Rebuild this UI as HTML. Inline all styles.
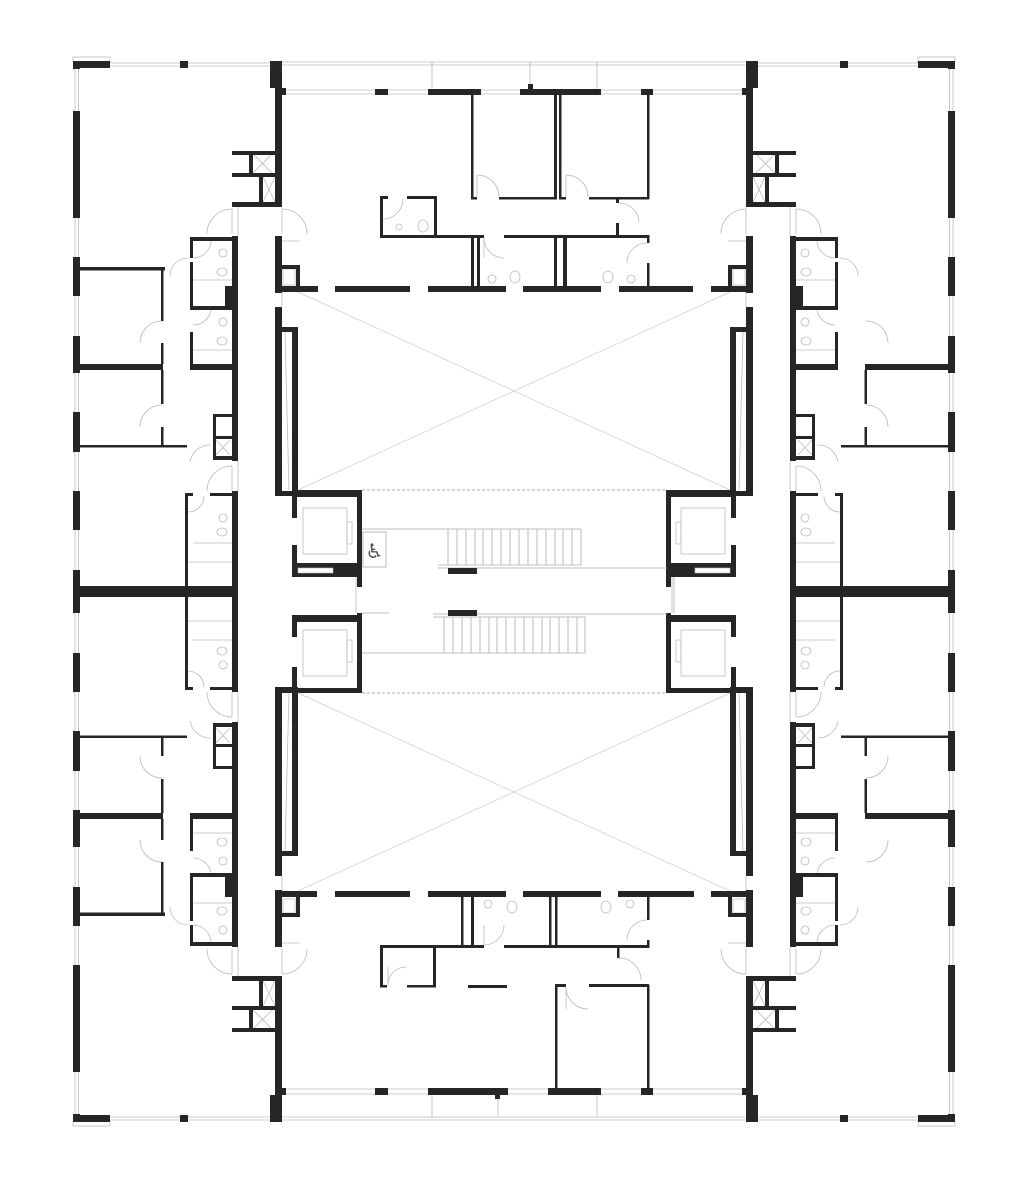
<!DOCTYPE html>
<html><head><meta charset="utf-8"><style>
html,body{margin:0;padding:0;background:#fff;}
svg{display:block;}
</style></head><body>
<svg width="1024" height="1184" viewBox="0 0 1024 1184" xmlns="http://www.w3.org/2000/svg" font-family="Liberation Sans, sans-serif">
<defs>
<g id="q">
  <g stroke="#bbb" stroke-width="0.8" fill="none">
    <line x1="110" y1="63" x2="272" y2="63"/><line x1="110" y1="66" x2="272" y2="66"/>
    <line x1="75" y1="61" x2="75" y2="592"/><line x1="78.5" y1="61" x2="78.5" y2="592"/>
    <rect x="73" y="57" width="37" height="5"/>
    <path d="M207,234 A25,25 0 0 1 232,209 M232,209 L232,234"/>
    <path d="M307,234 A25,25 0 0 0 282,209 M282,209 L282,234"/>
    <path d="M140,343 A22,22 0 0 1 162,321"/><path d="M140,427 A22,22 0 0 1 162,405"/>
    <path d="M207,491 A25,25 0 0 1 232,466 M232,466 L232,491"/>
    <path d="M188,258 A18,18 0 0 0 170,276"/>
    <path d="M193,258 A18,18 0 0 0 211,240 M193,325 A18,18 0 0 0 211,310"/>
    <path d="M190,462 A20,20 0 0 1 210,445"/>
    <path d="M188,512 A16,16 0 0 0 204,496"/>
    <line x1="282" y1="293" x2="282" y2="307"/>
    <line x1="285" y1="332" x2="289" y2="490"/>
    <line x1="238" y1="207" x2="238" y2="236"/><line x1="238" y1="461" x2="238" y2="491"/>
    <line x1="193" y1="280" x2="232" y2="280"/><line x1="193" y1="350" x2="232" y2="350"/>
    <line x1="193" y1="543" x2="232" y2="543"/><line x1="188" y1="562" x2="232" y2="562"/>
    <line x1="253" y1="154" x2="272" y2="173"/><line x1="272" y1="154" x2="253" y2="173"/>
    <line x1="263" y1="177" x2="275" y2="202"/><line x1="275" y1="177" x2="263" y2="202"/>
    <line x1="216" y1="440" x2="230" y2="455"/><line x1="230" y1="440" x2="216" y2="455"/>
    <circle cx="223" cy="253" r="4"/><circle cx="223" cy="322" r="4"/><circle cx="223" cy="518" r="4"/>
    <ellipse cx="222" cy="272" rx="5" ry="4"/><ellipse cx="222" cy="341" rx="5" ry="4"/><ellipse cx="222" cy="532" rx="5" ry="4"/>
  </g>
  <g fill="#262626">
    <rect x="73" y="61" width="37" height="7"/>
    <rect x="180" y="61" width="8" height="7"/>
    <rect x="73" y="61" width="7" height="8"/>
    <rect x="73" y="111" width="7" height="107"/>
    <rect x="73" y="257" width="7" height="39"/>
    <rect x="73" y="336" width="7" height="37"/>
    <rect x="73" y="412" width="7" height="40"/>
    <rect x="73" y="491" width="7" height="39"/>
    <rect x="73" y="570" width="7" height="22"/>
    <rect x="270" y="61" width="12" height="27"/>
    <rect x="275" y="61" width="7" height="146"/>
    <rect x="232" y="151" width="43" height="4"/>
    <rect x="232" y="173" width="43" height="4"/>
    <rect x="232" y="202" width="48" height="5"/>
    <rect x="249" y="154" width="4" height="19"/>
    <rect x="259" y="177" width="4" height="25"/>
    <rect x="232" y="236" width="6" height="225"/>
    <rect x="232" y="491" width="6" height="101"/>
    <rect x="275" y="236" width="7" height="57"/>
    <rect x="275" y="307" width="7" height="189"/>
    <rect x="292" y="327" width="6" height="169"/>
    <rect x="275" y="327" width="23" height="5"/>
    <rect x="275" y="491" width="23" height="5"/>
    <rect x="190" y="237" width="43" height="4"/>
    <rect x="190" y="237" width="3" height="21"/>
    <rect x="190" y="262" width="3" height="45"/>
    <rect x="190" y="306" width="43" height="4"/>
    <rect x="225" y="286" width="7" height="21"/>
    <rect x="190" y="332" width="3" height="38"/>
    <rect x="190" y="364" width="43" height="6"/>
    <rect x="213" y="414" width="19" height="3"/>
    <rect x="213" y="414" width="3" height="45"/>
    <rect x="213" y="436" width="19" height="3"/>
    <rect x="213" y="456" width="19" height="4"/>
    <rect x="80" y="364" width="83" height="6"/>
    <rect x="161" y="370" width="2.5" height="34"/>
    <rect x="161" y="427" width="2.5" height="19"/>
    <rect x="80" y="445" width="107" height="2.5"/>
    <rect x="185" y="493" width="8" height="3"/>
    <rect x="210" y="493" width="23" height="3"/>
    <rect x="185" y="493" width="3" height="99"/>
    <rect x="80" y="586" width="153" height="6"/>
  </g>
</g>
<g id="r1" fill="#262626">
  <rect x="80" y="267" width="85" height="3.5"/>
  <rect x="161" y="267" width="2.5" height="54"/>
  <rect x="161" y="343" width="2.5" height="21"/>
</g>
<g id="el">
  <g fill="#262626">
    <rect x="292" y="490" width="70" height="7"/>
    <rect x="292" y="490" width="5" height="28"/>
    <rect x="292" y="545" width="5" height="32"/>
    <rect x="357" y="490" width="5" height="97"/>
    <rect x="292" y="563" width="65" height="14"/>
    <rect x="292" y="615" width="70" height="7"/>
    <rect x="292" y="615" width="5" height="22"/>
    <rect x="292" y="667" width="5" height="26"/>
    <rect x="357" y="613" width="5" height="80"/>
    <rect x="275" y="688" width="87" height="5"/>
  </g>
  <rect x="298" y="568" width="35" height="5" fill="#fff" stroke="#bbb" stroke-width="0.6"/>
  <g stroke="#bbb" stroke-width="0.8" fill="none">
    <rect x="303" y="508" width="44" height="46"/><rect x="347" y="522" width="5" height="22"/>
    <rect x="303" y="630" width="44" height="46"/><rect x="347" y="640" width="5" height="22"/>
    <line x1="356" y1="577" x2="356" y2="613"/>
  </g>
</g>
</defs>

<use href="#q"/>
<use href="#q" transform="translate(1028,0) scale(-1,1)"/>
<use href="#q" transform="translate(0,1183) scale(1,-1)"/>
<use href="#q" transform="translate(1028,1183) scale(-1,-1)"/>
<use href="#r1"/>
<use href="#r1" transform="translate(0,1183) scale(1,-1)"/>
<use href="#el"/>
<use href="#el" transform="translate(1028,0) scale(-1,1)"/>

<g stroke="#ccc" stroke-width="0.7" fill="none">
  <line x1="298" y1="292" x2="730" y2="490"/><line x1="730" y1="292" x2="298" y2="490"/>
  <line x1="298" y1="693" x2="730" y2="891"/><line x1="730" y1="693" x2="298" y2="891"/>
  <line x1="362" y1="490" x2="667" y2="490" stroke-dasharray="3,2" stroke="#999"/>
  <line x1="362" y1="693" x2="667" y2="693" stroke-dasharray="3,2" stroke="#999"/>
</g>
<g stroke="#aaa" stroke-width="0.8" fill="none">
  <line x1="362" y1="529" x2="581" y2="529"/>
  <line x1="438" y1="565" x2="581" y2="565"/><line x1="438" y1="568" x2="667" y2="568"/>
  <line x1="433" y1="614" x2="667" y2="614"/><line x1="433" y1="617" x2="585" y2="617"/>
  <line x1="362" y1="653" x2="585" y2="653"/>
  <line x1="362" y1="613" x2="389" y2="613"/>
  <line x1="581" y1="529" x2="581" y2="565"/><line x1="585" y1="617" x2="585" y2="653"/>
  <path d="M448,529v36M457,529v36M466,529v36M475,529v36M483,529v36M492,529v36M501,529v36M510,529v36M519,529v36M528,529v36M537,529v36M546,529v36M555,529v36M563,529v36M572,529v36"/>
  <path d="M444,617v36M453,617v36M462,617v36M471,617v36M480,617v36M489,617v36M497,617v36M506,617v36M515,617v36M524,617v36M533,617v36M542,617v36M550,617v36M559,617v36M568,617v36M577,617v36"/>
  <rect x="363" y="532" width="23" height="35"/>
  <line x1="674" y1="577" x2="674" y2="613"/>
</g>
<rect x="448" y="568" width="29" height="6" fill="#262626"/>
<rect x="448" y="610" width="29" height="6" fill="#262626"/>
<text x="374.5" y="558" font-size="20" text-anchor="middle" fill="#555" font-family="DejaVu Sans, sans-serif">&#9855;</text>

<g stroke="#bbb" stroke-width="0.8" fill="none">
  <line x1="282" y1="62" x2="745" y2="62"/><line x1="282" y1="65" x2="745" y2="65"/>
  <line x1="432" y1="62" x2="432" y2="89"/><line x1="530" y1="62" x2="530" y2="84"/><line x1="597" y1="62" x2="597" y2="89"/>
  <line x1="282" y1="90" x2="745" y2="90"/><line x1="282" y1="94" x2="745" y2="94"/>
  <path d="M477,175 A22,22 0 0 1 499,197 M477,175 V197"/>
  <path d="M566,175 A22,22 0 0 1 588,197 M566,175 V197"/>
  <path d="M619,203 A20,20 0 0 1 639,223"/>
  <path d="M484,238 A20,20 0 0 0 504,258 M484,238 V258"/>
  <path d="M383,219 A20,20 0 0 0 403,199"/>
  <path d="M647,243 A20,20 0 0 0 627,263"/>
  <line x1="282" y1="241" x2="300" y2="241"/><line x1="728" y1="241" x2="746" y2="241"/>
  <rect x="283" y="269" width="12" height="16"/><rect x="733" y="269" width="12" height="16"/>
  <circle cx="399" cy="227" r="3"/><ellipse cx="423" cy="226" rx="5" ry="6"/>
  <circle cx="492" cy="279" r="4"/><ellipse cx="515" cy="277" rx="5" ry="6"/>
  <circle cx="631" cy="279" r="4"/><ellipse cx="608" cy="277" rx="5" ry="6"/>
</g>
<g fill="#262626">
  <rect x="375" y="89" width="13" height="6"/><rect x="428" y="89" width="53" height="6"/>
  <rect x="520" y="89" width="81" height="6"/><rect x="641" y="89" width="12" height="6"/>
  <rect x="528" y="84" width="5" height="5"/>
  <rect x="282" y="88" width="4" height="7"/><rect x="742" y="88" width="4" height="7"/>
  <rect x="471" y="95" width="2.5" height="104"/><rect x="554" y="95" width="3" height="104"/>
  <rect x="559" y="95" width="2.5" height="104"/><rect x="647" y="95" width="2.5" height="104"/>
  <rect x="471" y="197" width="6" height="2.5"/><rect x="499" y="197" width="58" height="2.5"/>
  <rect x="559" y="197" width="7" height="2.5"/><rect x="589" y="197" width="60" height="2.5"/>
  <rect x="616" y="199" width="3" height="4"/><rect x="616" y="223" width="3" height="14"/>
  <rect x="380" y="196" width="8" height="3"/><rect x="407" y="196" width="30" height="3"/>
  <rect x="380" y="196" width="3" height="41"/><rect x="434" y="196" width="3" height="41"/>
  <rect x="380" y="235" width="104" height="3"/><rect x="504" y="235" width="145" height="3"/>
  <rect x="647" y="235" width="2.5" height="8"/>
  <rect x="471" y="238" width="3" height="52"/><rect x="477" y="238" width="3" height="52"/>
  <rect x="554" y="238" width="3" height="52"/><rect x="563" y="238" width="4" height="52"/>
  <rect x="647" y="263" width="2.5" height="27"/>
  <rect x="275" y="286" width="43" height="6"/><rect x="335" y="286" width="75" height="6"/>
  <rect x="428" y="286" width="78" height="6"/><rect x="523" y="286" width="78" height="6"/>
  <rect x="619" y="286" width="74" height="6"/><rect x="711" y="286" width="42" height="6"/>
  <rect x="282" y="265" width="18" height="4"/><rect x="296" y="265" width="4" height="22"/>
  <rect x="728" y="265" width="18" height="4"/><rect x="728" y="265" width="4" height="22"/>
</g>

<g stroke="#bbb" stroke-width="0.8" fill="none">
  <line x1="282" y1="1117" x2="745" y2="1117"/><line x1="282" y1="1120" x2="745" y2="1120"/>
  <line x1="432" y1="1095" x2="432" y2="1117"/><line x1="498" y1="1099" x2="498" y2="1117"/><line x1="597" y1="1095" x2="597" y2="1117"/>
  <line x1="282" y1="1089" x2="745" y2="1089"/><line x1="282" y1="1094" x2="745" y2="1094"/>
  <path d="M484,945 A20,20 0 0 0 504,925 M484,925 V945"/>
  <path d="M388,985 A18,18 0 0 1 406,967 M388,967 V985"/>
  <path d="M619,958 A22,22 0 0 1 641,980"/>
  <path d="M566,987 A22,22 0 0 0 588,1009 M566,987 V1009"/>
  <path d="M647,920 A20,20 0 0 0 627,940"/>
  <line x1="282" y1="943" x2="300" y2="943"/><line x1="728" y1="943" x2="746" y2="943"/>
  <rect x="283" y="899" width="12" height="14"/><rect x="733" y="899" width="12" height="14"/>
  <circle cx="488" cy="904" r="4"/><ellipse cx="512" cy="907" rx="5" ry="6"/>
  <circle cx="630" cy="904" r="4"/><ellipse cx="606" cy="907" rx="5" ry="6"/>
</g>
<g fill="#262626">
  <rect x="275" y="891" width="42" height="6"/><rect x="335" y="891" width="75" height="6"/>
  <rect x="428" y="891" width="78" height="6"/><rect x="523" y="891" width="78" height="6"/>
  <rect x="618" y="891" width="76" height="6"/><rect x="711" y="891" width="42" height="6"/>
  <rect x="461" y="897" width="2.5" height="49"/><rect x="471" y="897" width="3" height="49"/>
  <rect x="549" y="897" width="2.5" height="49"/><rect x="555" y="897" width="2.5" height="49"/>
  <rect x="647" y="897" width="2.5" height="23"/><rect x="647" y="940" width="2.5" height="8"/>
  <rect x="380" y="945" width="104" height="3"/><rect x="504" y="945" width="145" height="3"/>
  <rect x="380" y="945" width="3" height="42"/><rect x="433" y="948" width="3" height="39"/>
  <rect x="380" y="985" width="7" height="2.5"/><rect x="407" y="985" width="29" height="2.5"/>
  <rect x="468" y="985" width="39" height="3"/>
  <rect x="617" y="948" width="2.5" height="10"/>
  <rect x="555" y="985" width="2.5" height="105"/><rect x="647" y="985" width="2.5" height="105"/>
  <rect x="555" y="984" width="11" height="3"/><rect x="589" y="984" width="60" height="3"/>
  <rect x="375" y="1088" width="13" height="7"/><rect x="428" y="1088" width="80" height="7"/>
  <rect x="495" y="1095" width="5" height="4"/><rect x="548" y="1088" width="53" height="7"/>
  <rect x="641" y="1088" width="12" height="7"/>
  <rect x="282" y="1088" width="4" height="7"/><rect x="742" y="1088" width="4" height="7"/>
  <rect x="296" y="897" width="4" height="20"/><rect x="282" y="913" width="18" height="4"/>
  <rect x="728" y="897" width="4" height="20"/><rect x="728" y="913" width="18" height="4"/>
</g>
</svg>
</body></html>
